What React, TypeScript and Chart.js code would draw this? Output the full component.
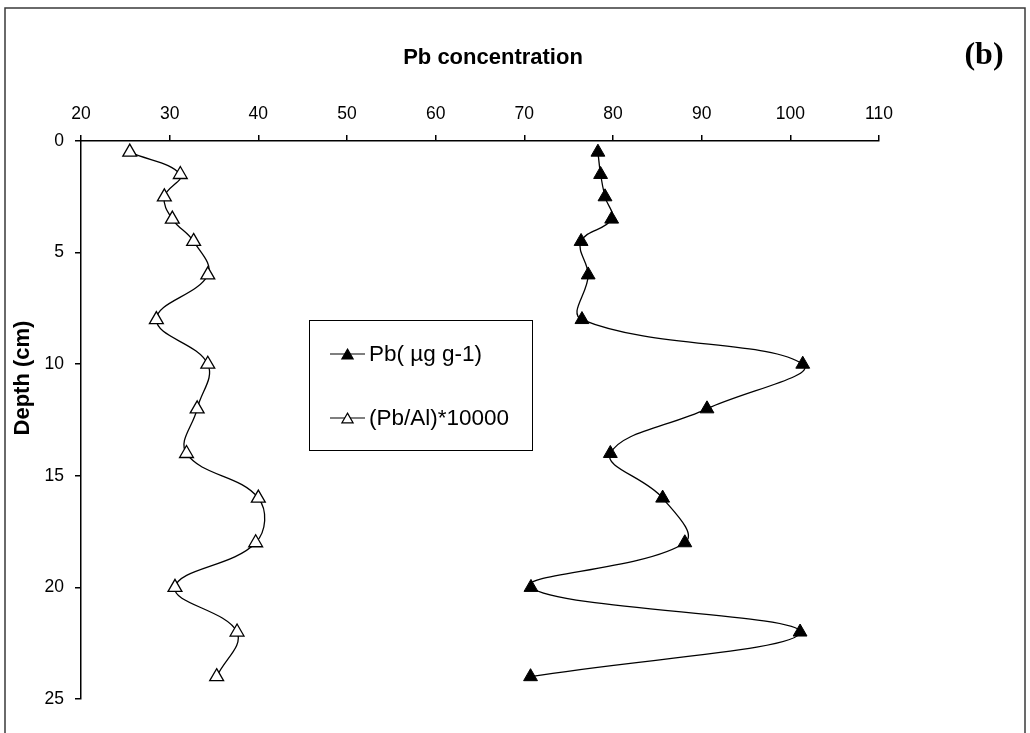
import React, { useEffect, useRef } from 'react';
import { Chart, registerables } from 'chart.js';

Chart.register(...registerables);

// ---- data ----
const depthsCm = [0.5, 1.5, 2.5, 3.5, 4.5, 6, 8, 10, 12, 14, 16, 18, 20, 22, 24];
const pbUgG = [78.3, 78.6, 79.1, 79.85, 76.4, 77.2, 76.5, 101.4, 90.6, 79.7, 85.6, 88.1, 70.75, 101.1, 70.7];
const pbAlRatio = [25.5, 31.2, 29.4, 30.3, 32.7, 34.3, 28.5, 34.3, 33.1, 31.9, 40.0, 39.7, 30.6, 37.6, 35.3];
const xTickValues = [20, 30, 40, 50, 60, 70, 80, 90, 100, 110];
const yTickValues = [0, 5, 10, 15, 20, 25];
const seriesNames = ['Pb( µg g-1)', '(Pb/Al)*10000'];
const xAxisTitle = 'Pb concentration';
const yAxisTitle = 'Depth (cm)';
const panelLabel = '(b)';

const SANS = '"Liberation Sans", Arial, sans-serif';
const SERIF = '"Liberation Serif", "Times New Roman", serif';

function toPoints(xs: number[], ys: number[]) {
  return xs.map((x, i) => ({ x, y: ys[i] }));
}

function triPath(ctx: CanvasRenderingContext2D, cx: number, cy: number, r: number) {
  const h = 1.5 * r;
  const w = Math.sqrt(3) * r;
  ctx.beginPath();
  ctx.moveTo(cx, cy - h / 2);
  ctx.lineTo(cx + w / 2, cy + h / 2);
  ctx.lineTo(cx - w / 2, cy + h / 2);
  ctx.closePath();
}

const overlayPlugin = {
  id: 'overlayTexts',
  afterDraw(chart: any) {
    const ctx: CanvasRenderingContext2D = chart.ctx;
    ctx.save();
    // outer frame
    ctx.strokeStyle = '#3a3a3a';
    ctx.lineWidth = 1.5;
    ctx.strokeRect(5, 8, 1020, 745);

    // axis titles
    ctx.fillStyle = '#000';
    ctx.textAlign = 'center';
    ctx.textBaseline = 'middle';
    ctx.font = `bold 22px ${SANS}`;
    ctx.fillText(xAxisTitle, 493, 58);
    ctx.save();
    ctx.translate(23, 378);
    ctx.rotate(-Math.PI / 2);
    ctx.fillText(yAxisTitle, 0, 0);
    ctx.restore();

    // panel label
    ctx.font = `bold 32px ${SERIF}`;
    ctx.fillText(panelLabel, 984, 56);

    // legend box
    ctx.strokeStyle = '#000';
    ctx.lineWidth = 1;
    ctx.strokeRect(309.5, 320.5, 223, 130);
    const rows = [354, 418];
    chart.data.datasets.forEach((ds: any, i: number) => {
      const y = rows[i];
      ctx.strokeStyle = '#000';
      ctx.lineWidth = 1.2;
      ctx.beginPath();
      ctx.moveTo(330, y);
      ctx.lineTo(365, y);
      ctx.stroke();
      triPath(ctx, 347.5, y, 6.5);
      ctx.fillStyle = ds.pointBackgroundColor;
      ctx.fill();
      ctx.lineWidth = 1.2;
      ctx.strokeStyle = '#000';
      ctx.stroke();
      ctx.fillStyle = '#000';
      ctx.textAlign = 'left';
      ctx.textBaseline = 'middle';
      ctx.font = `22.5px ${SANS}`;
      ctx.fillText(ds.label, 369, y + 1);
    });
    ctx.restore();
  },
};

export default function App() {
  const canvasRef = useRef<HTMLCanvasElement | null>(null);

  useEffect(() => {
    const canvas = canvasRef.current;
    if (!canvas) return;
    const tickFont = { family: SANS, size: 17.5 };
    const chart = new Chart(canvas, {
      type: 'scatter',
      data: {
        datasets: [
          {
            label: seriesNames[0],
            data: toPoints(pbUgG, depthsCm),
            showLine: true,
            borderColor: '#000',
            borderWidth: 1.3,
            tension: 0.4,
            pointStyle: 'triangle',
            pointRadius: 8,
            pointHoverRadius: 8,
            pointBackgroundColor: '#000',
            pointBorderColor: '#000',
            pointBorderWidth: 1,
            clip: false,
          },
          {
            label: seriesNames[1],
            data: toPoints(pbAlRatio, depthsCm),
            showLine: true,
            borderColor: '#000',
            borderWidth: 1.3,
            tension: 0.4,
            pointStyle: 'triangle',
            pointRadius: 8,
            pointHoverRadius: 8,
            pointBackgroundColor: '#fff',
            pointBorderColor: '#000',
            pointBorderWidth: 1.3,
            clip: false,
          },
        ],
      },
      options: {
        responsive: false,
        animation: false,
        devicePixelRatio: 1,
        layout: { padding: { left: 0, top: 0, right: 151, bottom: 34 } },
        plugins: {
          legend: { display: false },
          tooltip: { enabled: false },
          title: { display: false },
        },
        scales: {
          x: {
            type: 'linear',
            position: 'top',
            min: 20,
            max: 110,
            afterBuildTicks: (scale: any) => {
              scale.ticks = xTickValues.map((v) => ({ value: v }));
            },
            afterFit: (scale: any) => {
              scale.height = 141;
            },
            ticks: { color: '#000', font: tickFont, padding: 10, maxRotation: 0, autoSkip: false },
            grid: { display: true, drawOnChartArea: false, drawTicks: true, tickLength: 6, color: '#000', lineWidth: 1.5 },
            border: { display: true, color: '#000', width: 1.5 },
          },
          y: {
            type: 'linear',
            reverse: true,
            min: 0,
            max: 25,
            afterBuildTicks: (scale: any) => {
              scale.ticks = yTickValues.map((v) => ({ value: v }));
            },
            afterFit: (scale: any) => {
              scale.width = 81;
            },
            ticks: { color: '#000', font: tickFont, padding: 11, autoSkip: false },
            grid: { display: true, drawOnChartArea: false, drawTicks: true, tickLength: 6, color: '#000', lineWidth: 1.5 },
            border: { display: true, color: '#000', width: 1.5 },
          },
        },
      },
      plugins: [overlayPlugin],
    } as any);
    return () => chart.destroy();
  }, []);

  return (
    <div style={{ position: 'absolute', left: 0, top: 0, width: 1030, height: 733, background: '#fff' }}>
      <canvas ref={canvasRef} width={1030} height={733} style={{ display: 'block', width: 1030, height: 733 }} />
    </div>
  );
}
